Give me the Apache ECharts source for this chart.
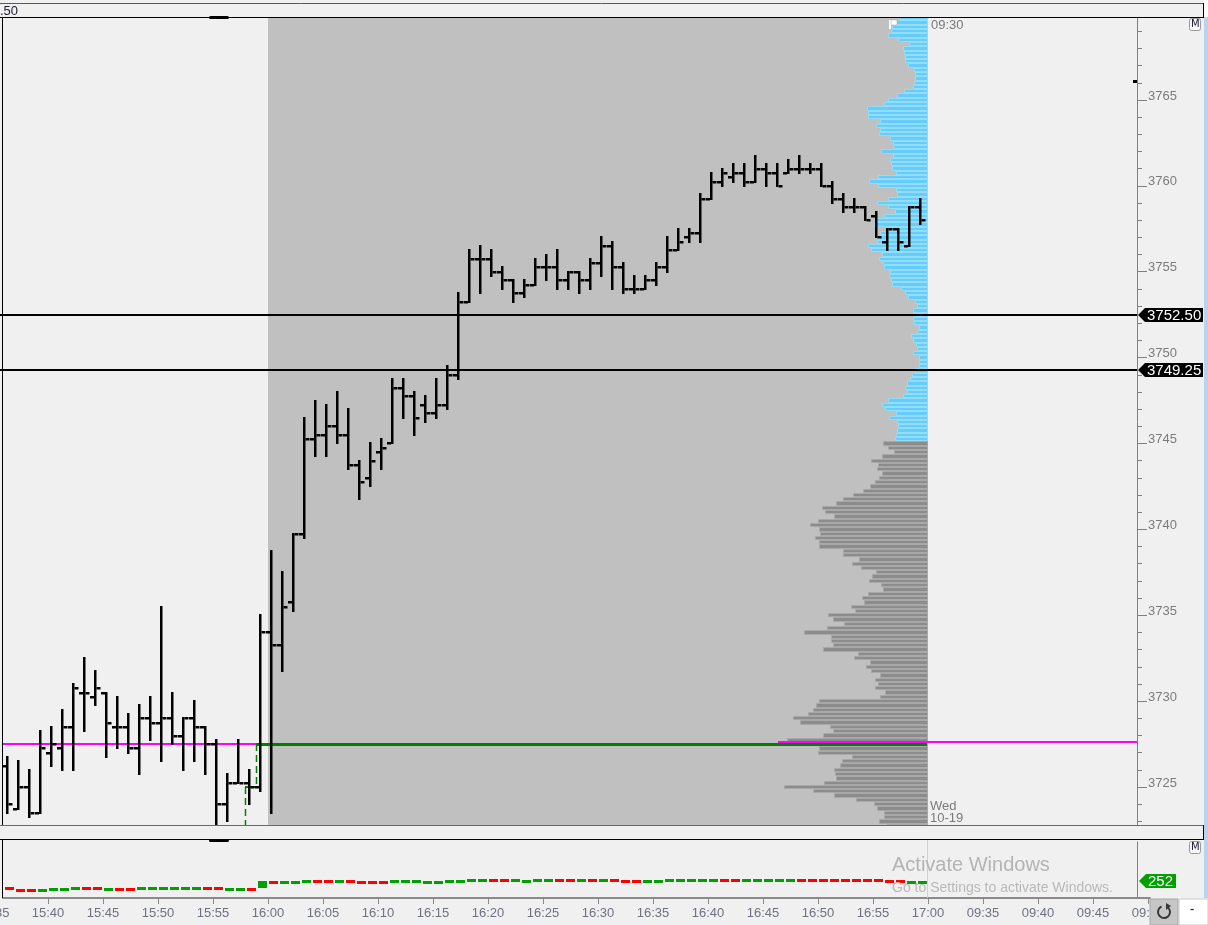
<!DOCTYPE html>
<html><head><meta charset="utf-8">
<script src="https://cdn.jsdelivr.net/npm/echarts@6/dist/echarts.min.js"></script>
<style>html,body{margin:0;padding:0;background:#f0f0f0;overflow:hidden}#c{width:1208px;height:925px}</style>
</head><body><div id="c"></div><script>
// ---------------- DATA ----------------
const barTimes = ['15:36','15:37','15:38','15:39','15:40','15:41','15:42','15:43','15:44','15:45','15:46','15:47','15:48','15:49','15:50','15:51','15:52','15:53','15:54','15:55','15:56','15:57','15:58','15:59',
'16:00','16:01','16:02','16:03','16:04','16:05','16:06','16:07','16:08','16:09','16:10','16:11','16:12','16:13','16:14','16:15','16:16','16:17','16:18','16:19',
'16:20','16:21','16:22','16:23','16:24','16:25','16:26','16:27','16:28','16:29','16:30','16:31','16:32','16:33','16:34','16:35','16:36','16:37','16:38','16:39',
'16:40','16:41','16:42','16:43','16:44','16:45','16:46','16:47','16:48','16:49','16:50','16:51','16:52','16:53','16:54','16:55','16:56','16:57','16:58','16:59'];
const opens  = [3726.25,3723.75,3725.0,3723.5,3727.0,3727.25,3728.5,3730.5,3730.25,3730.5,3728.5,3728.5,3727.25,3729.0,3728.75,3729.0,3728.0,3729.0,3728.5,3727.5,3724.0,3725.25,3725.25,3725.0,
3734.0,3733.25,3735.75,3739.75,3745.25,3745.5,3746.0,3745.5,3743.75,3743.0,3744.5,3745.0,3748.25,3747.75,3747.25,3746.75,3747.25,3749.0,3753.25,3755.75,
3755.75,3755.0,3754.5,3753.75,3754.25,3755.25,3755.25,3754.5,3755.0,3754.5,3755.5,3756.5,3755.25,3754.0,3754.0,3754.5,3755.25,3756.25,3757.0,3757.25,
3759.25,3760.25,3760.5,3760.75,3760.25,3761.0,3760.75,3760.75,3761.0,3761.0,3761.0,3760.0,3759.25,3758.75,3758.75,3758.25,3756.75,3757.5,3756.5,3758.75];
const highs  = [3726.75,3726.5,3726.0,3728.25,3728.5,3729.5,3731.0,3732.5,3731.75,3730.5,3730.25,3729.25,3729.75,3730.25,3735.5,3730.5,3729.0,3730.0,3728.5,3727.75,3725.75,3727.75,3726.0,3735.0,
3738.75,3737.5,3739.75,3746.5,3747.5,3747.25,3748.0,3747.0,3744.0,3745.0,3745.25,3748.75,3748.75,3748.0,3747.75,3748.75,3749.5,3753.75,3756.25,3756.5,
3756.25,3755.25,3754.5,3754.5,3755.75,3756.0,3756.25,3755.0,3755.0,3755.75,3757.0,3756.75,3755.5,3754.75,3754.75,3755.5,3757.0,3757.5,3757.5,3759.5,
3760.75,3761.0,3761.25,3761.25,3761.75,3761.25,3761.25,3761.5,3761.75,3761.25,3761.25,3760.25,3759.5,3759.25,3758.75,3758.5,3757.5,3757.5,3758.75,3759.25];
const lows   = [3723.5,3723.75,3723.25,3723.5,3726.25,3726.0,3726.0,3728.25,3729.75,3726.75,3727.25,3727.0,3725.75,3727.75,3726.5,3727.5,3726.0,3726.5,3725.75,3722.5,3723.0,3725.25,3724.0,3724.75,
3723.5,3731.75,3735.25,3739.5,3744.25,3744.25,3745.0,3743.5,3741.75,3742.5,3743.5,3745.0,3746.5,3745.5,3746.25,3746.5,3747.0,3748.75,3753.25,3753.75,
3754.75,3754.0,3753.25,3753.5,3754.25,3754.5,3754.0,3754.0,3753.75,3754.0,3754.75,3754.0,3753.75,3753.75,3754.0,3754.25,3755.0,3756.25,3756.75,3756.75,
3759.25,3760.0,3760.25,3760.0,3760.25,3760.0,3760.0,3760.75,3760.75,3760.75,3760.0,3759.0,3758.5,3758.5,3758.0,3757.0,3756.25,3756.25,3756.5,3757.75];
const closes = [3724.0,3725.0,3723.5,3727.25,3727.5,3728.5,3730.75,3730.5,3730.75,3728.75,3728.5,3727.25,3729.0,3728.75,3729.0,3728.0,3729.0,3728.5,3727.5,3724.0,3725.25,3725.25,3725.0,3734.0,
3733.25,3735.5,3739.75,3745.25,3745.5,3746.0,3745.5,3743.75,3742.75,3744.0,3744.75,3748.25,3747.75,3746.5,3746.75,3747.25,3749.0,3753.25,3755.75,3755.75,
3755.0,3754.5,3753.75,3754.25,3755.25,3755.25,3754.5,3755.0,3754.5,3755.5,3756.5,3755.25,3754.0,3754.0,3754.5,3755.25,3756.25,3756.75,3757.25,3759.25,
3760.25,3760.75,3760.75,3760.25,3761.0,3760.75,3760.0,3761.0,3761.0,3761.0,3760.0,3759.25,3758.75,3758.75,3758.0,3757.0,3757.5,3756.75,3758.75,3758.0];

// cumulative delta (lower pane), per bar
const deltaOpen  = [160,140,132,122,135,138,150,162,160,138,148,146,152,154,153,154,153,154,162,160,138,139,147,150,252,240,241,264,275,274,255,275,252,250,249,260,256,255,241,240,255,256,270,270,282,280,271,255,270,271,281,280,270,285,276,284,266,265,255,256,275,276,275,276,275,285,284,275,276,275,276,275,285,284,285,284,285,284,285,284,266,265,244,246];
const deltaClose = [140,115,122,132,148,146,162,152,154,147,137,138,162,160,161,160,162,161,152,154,147,146,137,255,240,250,249,275,265,266,265,265,240,240,241,270,264,265,249,250,264,265,280,280,270,270,280,265,281,280,270,271,280,275,284,276,254,255,265,264,285,284,285,284,285,275,276,285,284,285,284,285,275,276,275,276,275,276,275,276,254,255,250,252];

// volume profile of the 16:00-17:00 session (0.25 price steps, from top level downwards)
const profileStep = 0.25;
const blueTopPrice = 3769.75;
const blueVolumes = [280,330,363,373,397,297,187,253,240,230,227,197,140,133,133,140,153,237,313,403,437,613,597,603,480,523,480,487,380,347,347,473,347,380,373,363,323,497,587,497,320,313,403,513,397,330,437,530,537,397,480,503,507,603,573,463,493,447,440,380,387,373,363,270,230,203,130,113,153,147,147,140,93,107,170,153,120,107,153,87,93,87,130,163,180,213,230,213,247,397,463,430,320,387,307,297,313,320,330];
const grayTopPrice = 3745.0;
const grayVolumes = [450,400,340,460,570,500,510,460,490,530,580,650,750,850,920,1060,1030,940,1100,1180,1090,1080,1130,1090,1090,850,850,690,760,670,520,560,590,470,450,600,660,640,770,730,1000,950,840,1010,1240,970,970,950,1050,700,740,580,620,570,480,530,500,530,430,480,1090,1120,1150,1200,1350,1280,980,950,1050,1410,1500,1090,1100,760,860,880,940,930,920,1040,1440,1150,940,720,540,510,440,440,490,410];
const pocPrice = 3727.5;

const levelLines = [3752.50, 3749.25];
const greenStep = [['15:58',3722.5],['15:58',3725.0],['15:59',3725.0],['15:59',3727.5],['17:00',3727.5]];
const prevPoc = [['15:35',3727.5],['15:59',3727.5]];
const session = ['16:00','17:00'];

const timeTickLabels = ['15:35','15:40','15:45','15:50','15:55','16:00','16:05','16:10','16:15','16:20','16:25','16:30','16:35','16:40','16:45','16:50','16:55','17:00','09:35','09:40','09:45','09:50'];
const priceTickLabels = [3725,3730,3735,3740,3745,3750,3755,3760,3765];
const priceMinorTicks = [3723,3724,3726,3727,3728,3729,3731,3732,3733,3734,3736,3737,3738,3739,3741,3742,3743,3744,3746,3747,3748,3749,3751,3752,3753,3754,3756,3757,3758,3759,3761,3762,3763,3764,3766,3767,3768,3769];

// ---------------- HELPERS ----------------
const FONT = '"Liberation Sans", Arial, sans-serif';
function idx(t){ const p=t.split(':').map(Number); const m=p[0]*60+p[1]; return p[0]>=12 ? m-(15*60+35) : 85+m-(9*60+30); }
const BAR_SHIFT = 0.3, LINE_SHIFT = -0.1;
const X_MIN = 10/11, X_MAX = X_MIN + 1134/11;
const Y_MIN = 3722.79, Y_MAX = 3769.77;

const ohlcData = barTimes.map((t,i)=>[idx(t)+BAR_SHIFT, opens[i], highs[i], lows[i], closes[i]]);
const deltaData = barTimes.map((t,i)=>[idx(t)+BAR_SHIFT+0.2, deltaOpen[i], deltaClose[i]]);
const profileData = [];
blueVolumes.forEach((v,i)=>{ const p=blueTopPrice-i*profileStep; profileData.push([v,p,0,p===pocPrice?1:0]); });
grayVolumes.forEach((v,i)=>{ const p=grayTopPrice-i*profileStep; profileData.push([v,p,1,p===pocPrice?1:0]); });
const tickPos = timeTickLabels.map(idx);
const tickMap = {}; timeTickLabels.forEach((l)=>{ tickMap[idx(l)] = l; });

function renderSession(params, api){
  const a = api.coord([api.value(0), Y_MAX]), b = api.coord([api.value(1), Y_MAX]);
  const cs = params.coordSys;
  return {type:'rect', shape:{x:Math.round(a[0]), y:cs.y, width:Math.round(b[0])-Math.round(a[0]), height:cs.height}, style:{fill:'#c0c0c0'}};
}
function renderProfile(params, api){
  const vol=api.value(0), price=api.value(1), kind=api.value(2), poc=api.value(3);
  const a = api.coord([vol, price+profileStep/2]);
  const b = api.coord([0, price-profileStep/2]);
  const x1=Math.round(a[0]), x2=Math.round(b[0]), y1=Math.round(a[1]), y2=Math.round(b[1]);
  const fill = kind ? '#8c8c8c' : '#66ccff';
  const stroke = kind ? '#a8a8a8' : '#92def2';
  const ch = [{type:'rect', shape:{x:x1+0.5, y:y1+0.5, width:Math.max(1,x2-x1-1), height:Math.max(1,y2-y1-1)}, style:{fill, stroke, lineWidth:1}}];
  if (poc){
    const r = params.coordSys.x + params.coordSys.width;
    const yc = Math.round(api.coord([0, price])[1]);
    ch.push({type:'rect', shape:{x:x1, y:yc-3, width:r-x1, height:2}, style:{fill:'#ff00ff'}});
  }
  return {type:'group', children:ch};
}
function renderPrevPoc(params, api){
  const a = api.coord([api.value(0), api.value(1)]), b = api.coord([api.value(2), api.value(3)]);
  const x1 = Math.max(params.coordSys.x, Math.round(a[0]));
  const y = Math.round(a[1]);
  return {type:'rect', shape:{x:x1, y:y-1, width:Math.round(b[0])-x1, height:2}, style:{fill:'#ff00ff'}};
}
function renderStep(params, api){
  const a = api.coord([api.value(0), api.value(1)]), b = api.coord([api.value(2), api.value(3)]);
  const x1=Math.round(a[0]), x2=Math.round(b[0]), y1=Math.round(a[1]), y2=Math.round(b[1]);
  if (x1===x2){
    return {type:'line', shape:{x1:x1+0.5, y1:Math.min(y1,y2), x2:x1+0.5, y2:Math.max(y1,y2)}, style:{stroke:'#008000', lineWidth:1.5, lineDash:[7,4]}};
  }
  const long = Math.abs(api.value(2)-api.value(0))>5;
  return {type:'rect', shape:{x:Math.min(x1,x2), y:y1-1, width:Math.abs(x2-x1), height:long?3:2}, style:{fill:'#008000'}};
}
function renderOHLC(params, api){
  const x=api.value(0);
  const pO=api.coord([x,api.value(1)]), pH=api.coord([x,api.value(2)]), pL=api.coord([x,api.value(3)]), pC=api.coord([x,api.value(4)]);
  const cx=Math.round(pH[0]), yh=Math.round(pH[1]), yl=Math.round(pL[1]);
  return {type:'group', children:[
    {type:'rect', shape:{x:cx-1, y:yh-1, width:2.5, height:yl-yh+2}, style:{fill:'#000'}},
    {type:'rect', shape:{x:cx-5, y:Math.round(pO[1])-1, width:4, height:2.5}, style:{fill:'#000'}},
    {type:'rect', shape:{x:cx+1.5, y:Math.round(pC[1])-1, width:4, height:2.5}, style:{fill:'#000'}}
  ]};
}
function renderLevel(params, api){
  const p = api.value(1);
  const cs = params.coordSys;
  const y = Math.round(api.coord([api.value(0), p])[1]);
  const x0 = cs.x + cs.width;
  return {type:'group', children:[
    {type:'rect', shape:{x:0, y:y-1, width:x0, height:2}, style:{fill:'#000'}},
    {type:'polygon', shape:{points:[[x0+1,y],[x0+8,y-7],[x0+66,y-7],[x0+66,y+7],[x0+8,y+7]]}, style:{fill:'#000'}},
    {type:'text', style:{text:p.toFixed(2), x:x0+10, y:y+0.5, fill:'#fff', font:'15px '+FONT, verticalAlign:'middle', textVerticalAlign:'middle'}}
  ]};
}
function renderDelta(params, api){
  const x=api.value(0), o=api.value(1), c=api.value(2);
  const a=api.coord([x-0.41, Math.max(o,c)]), b=api.coord([x+0.41, Math.min(o,c)]);
  let y1=Math.round(a[1]), y2=Math.round(b[1]); if (y2-y1<3) y2=y1+3;
  const x1=Math.round(a[0]), x2=Math.round(b[0]);
  return {type:'rect', shape:{x:x1, y:y1, width:x2-x1, height:y2-y1}, style:{fill: c>=o ? '#00a000' : '#ff0000'}};
}
function renderDeltaTag(params, api){
  const v=api.value(1), cs=params.coordSys;
  const y=Math.round(api.coord([api.value(0), v])[1]);
  const x0=cs.x+cs.width;
  return {type:'group', children:[
    {type:'polygon', shape:{points:[[x0+2,y],[x0+9,y-7],[x0+39,y-7],[x0+39,y+7],[x0+9,y+7]]}, style:{fill:'#00a000'}},
    {type:'text', style:{text:String(v), x:x0+11, y:y+0.5, fill:'#fff', font:'15px '+FONT, verticalAlign:'middle', textVerticalAlign:'middle'}}
  ]};
}
function renderSep(params, api){
  const a=api.coord([api.value(0), 0]); const cs=params.coordSys;
  const x=Math.round(a[0])-0.5;
  return {type:'line', shape:{x1:x, y1:cs.y-2, x2:x, y2:cs.y+cs.height}, style:{stroke:'#cfcfcf', lineWidth:1}};
}

const stepSegs = [];
for (let i=0;i<greenStep.length-1;i++){
  stepSegs.push([idx(greenStep[i][0])+LINE_SHIFT, greenStep[i][1], idx(greenStep[i+1][0])+LINE_SHIFT, greenStep[i+1][1]]);
}
const prevPocSeg = [[idx(prevPoc[0][0]), prevPoc[0][1], idx(prevPoc[1][0])+LINE_SHIFT, prevPoc[1][1]]];

const option = {
  animation:false,
  backgroundColor:'#f0f0f0',
  grid:[
    {left:3, top:18, width:1134, height:807},
    {left:3, top:842, width:1134, height:56},
    {left:3, top:18, width:1134, height:807},
    {left:3, top:897, width:1147, height:1},
    {left:3, top:18, width:1134, height:807}
  ],
  xAxis:[
    {gridIndex:0, type:'value', min:X_MIN, max:X_MAX, show:false},
    {gridIndex:1, type:'value', min:X_MIN, max:X_MAX, show:false},
    {gridIndex:2, type:'value', min:-2090, max:9250, inverse:true, show:false},
    {gridIndex:3, type:'value', min:X_MIN, max:X_MIN+1147/11, position:'bottom',
      axisLine:{show:true, lineStyle:{color:'#8a8a8a', width:2}},
      axisTick:{show:true, customValues:tickPos, length:6, lineStyle:{color:'#8a8a8a', width:1}},
      axisLabel:{show:true, customValues:tickPos, formatter:(v)=>tickMap[Math.round(v)]||'', color:'#6c7280', fontSize:13, fontFamily:FONT, margin:9},
      splitLine:{show:false}},
    {gridIndex:4, type:'value', min:X_MIN, max:X_MAX, show:false}
  ],
  yAxis:[
    {gridIndex:0, type:'value', min:Y_MIN, max:Y_MAX, position:'right',
      axisLine:{show:true, lineStyle:{color:'#808080', width:1}},
      axisTick:{show:true, customValues:priceTickLabels, length:10, lineStyle:{color:'#808080'}},
      axisLabel:{show:true, customValues:priceTickLabels, formatter:(v)=>String(Math.round(v)), margin:11, color:'#7c7c7c', fontSize:13, fontFamily:FONT, verticalAlign:'bottom', lineHeight:8},
      splitLine:{show:false}},
    {gridIndex:1, type:'value', min:0, max:840, position:'right',
      axisLine:{show:true, lineStyle:{color:'#808080', width:1}}, axisTick:{show:false}, axisLabel:{show:false}, splitLine:{show:false}},
    {gridIndex:2, type:'value', min:Y_MIN, max:Y_MAX, show:false},
    {gridIndex:3, type:'value', show:false},
    {gridIndex:4, type:'value', min:Y_MIN, max:Y_MAX, position:'right',
      axisLine:{show:false}, axisTick:{show:true, customValues:priceMinorTicks, length:5, lineStyle:{color:'#808080'}},
      axisLabel:{show:false}, splitLine:{show:false}}
  ],
  series:[
    {type:'custom', name:'session', xAxisIndex:0, yAxisIndex:0, z:1, renderItem:renderSession, data:[[idx(session[0]), idx(session[1])]], encode:{x:[0,1]}, silent:true},
    {type:'custom', name:'profile', xAxisIndex:2, yAxisIndex:2, z:2, clip:true, renderItem:renderProfile, data:profileData, encode:{x:0, y:1}, silent:true},
    {type:'custom', name:'prevPoc', xAxisIndex:0, yAxisIndex:0, z:3, clip:true, renderItem:renderPrevPoc, data:prevPocSeg, encode:{x:[0,2], y:[1,3]}, silent:true},
    {type:'custom', name:'step', xAxisIndex:0, yAxisIndex:0, z:4, clip:true, renderItem:renderStep, data:stepSegs, encode:{x:[0,2], y:[1,3]}, silent:true},
    {type:'custom', name:'ohlc', xAxisIndex:0, yAxisIndex:0, z:5, clip:true, renderItem:renderOHLC, data:ohlcData, encode:{x:0, y:[1,2,3,4]}, silent:true},
    {type:'custom', name:'levels', xAxisIndex:0, yAxisIndex:0, z:6, clip:false, renderItem:renderLevel, data:levelLines.map(p=>[X_MAX,p]), encode:{x:0, y:1}, silent:true},
    {type:'custom', name:'sep', xAxisIndex:1, yAxisIndex:1, z:2, renderItem:renderSep, data:[[idx(session[1]), 0]], encode:{x:0,y:1}, silent:true},
    {type:'custom', name:'delta', xAxisIndex:1, yAxisIndex:1, z:5, clip:true, renderItem:renderDelta, data:deltaData, encode:{x:0, y:[1,2]}, silent:true},
    {type:'custom', name:'deltaTag', xAxisIndex:1, yAxisIndex:1, z:6, clip:false, renderItem:renderDeltaTag, data:[[X_MAX, deltaClose[deltaClose.length-1]]], encode:{x:0,y:1}, silent:true}
  ],
  graphic:[
    {type:'rect', z:100, shape:{x:0,y:0,width:1208,height:3}, style:{fill:'#f0f0f0'}},
    {type:'rect', z:100, shape:{x:1204,y:0,width:4,height:17}, style:{fill:'#ffffff'}},
    {type:'line', z:101, shape:{x1:0,y1:3.5,x2:1203,y2:3.5}, style:{stroke:'#5a5a5a', lineWidth:1}},
    {type:'rect', z:100, shape:{x:0,y:4,width:1203,height:13}, style:{fill:'#f0f0f0'}},
    {type:'line', z:101, shape:{x1:0,y1:17.5,x2:1204,y2:17.5}, style:{stroke:'#000', lineWidth:1}},
    {type:'line', z:101, shape:{x1:1203.5,y1:3,x2:1203.5,y2:18}, style:{stroke:'#000', lineWidth:1}},
    {type:'text', z:102, style:{text:'.50', x:0, y:5, fill:'#1a1a2a', font:'13px '+FONT}},
    {type:'line', z:101, shape:{x1:2.5,y1:17,x2:2.5,y2:825}, style:{stroke:'#000', lineWidth:1}},
    {type:'rect', z:103, shape:{x:209,y:16,width:20,height:3,r:1.5}, style:{fill:'#000'}},
    {type:'rect', z:100, shape:{x:0,y:826,width:1203,height:13}, style:{fill:'#f0f0f0'}},
    {type:'line', z:101, shape:{x1:0,y1:825.5,x2:1204,y2:825.5}, style:{stroke:'#6a6a6a', lineWidth:1}},
    {type:'line', z:101, shape:{x1:0,y1:839.5,x2:1204,y2:839.5}, style:{stroke:'#000', lineWidth:1}},
    {type:'line', z:101, shape:{x1:1203.5,y1:825,x2:1203.5,y2:840}, style:{stroke:'#000', lineWidth:1}},
    {type:'rect', z:103, shape:{x:209,y:839,width:20,height:3,r:1.5}, style:{fill:'#000'}},
    {type:'line', z:101, shape:{x1:2.5,y1:840,x2:2.5,y2:898}, style:{stroke:'#000', lineWidth:1}},
    {type:'rect', z:100, shape:{x:1204,y:17,width:4,height:881}, style:{fill:'#bad3ec'}},
    {type:'rect', z:102, shape:{x:1189.5,y:18.5,width:11,height:12,r:2}, style:{fill:'#f7f7f7', stroke:'#999', lineWidth:1}},
    {type:'text', z:103, style:{text:'M', x:1191, y:19.5, fill:'#1a1a3a', font:'10px "DejaVu Sans"'}},
    {type:'rect', z:102, shape:{x:1189.5,y:841.5,width:11,height:12,r:2}, style:{fill:'#f7f7f7', stroke:'#999', lineWidth:1}},
    {type:'text', z:103, style:{text:'M', x:1191, y:842.5, fill:'#1a1a3a', font:'10px "DejaVu Sans"'}},
    {type:'text', z:102, style:{text:'09:30', x:931, y:19, fill:'#7a7a7a', font:'13px '+FONT}},
    {type:'text', z:102, style:{text:'Wed', x:930, y:800, fill:'#7a7a7a', font:'13px '+FONT}},
    {type:'text', z:102, style:{text:'10-19', x:930, y:812, fill:'#7a7a7a', font:'13px '+FONT}},
    {type:'rect', z:102, shape:{x:889,y:20,width:2,height:9}, style:{fill:'#ffffff'}},
    {type:'rect', z:102, shape:{x:891,y:20,width:6,height:5}, style:{fill:'#ffffff', stroke:'#aaaaaa', lineWidth:0.5}},
    {type:'rect', z:102, shape:{x:1133,y:80,width:4,height:3}, style:{fill:'#000'}},
    {type:'text', z:102, style:{text:'15:35', x:-23, y:907, fill:'#6c7280', font:'13px '+FONT}},
    {type:'text', z:110, style:{text:'Activate Windows', x:892, y:855, fill:'#b4b4b4', font:'20px '+FONT}},
    {type:'text', z:110, style:{text:'Go to Settings to activate Windows.', x:892, y:881, fill:'#b9b9b9', font:'14px '+FONT}},
    {type:'rect', z:110, shape:{x:1150,y:899,width:28,height:26}, style:{fill:'#c6c6c6', stroke:'#a8a8a8', lineWidth:1}},
    {type:'arc', z:111, shape:{cx:1164,cy:912,r:6,startAngle:-1.2,endAngle:4.3}, style:{stroke:'#3a3a3a', lineWidth:2, fill:null}},
    {type:'polygon', z:111, shape:{points:[[1166,903],[1171,906],[1166,910]]}, style:{fill:'#3a3a3a'}},
    {type:'rect', z:110, shape:{x:1179,y:899,width:29,height:26}, style:{fill:'#ffffff', stroke:'#cccccc', lineWidth:1}},
    {type:'text', z:111, style:{text:'-', x:1190, y:903, fill:'#000', font:'13px '+FONT}}
  ]
};
const chart = echarts.init(document.getElementById('c'), null, {renderer:'canvas', width:1208, height:925});
chart.setOption(option);
</script></body></html>
